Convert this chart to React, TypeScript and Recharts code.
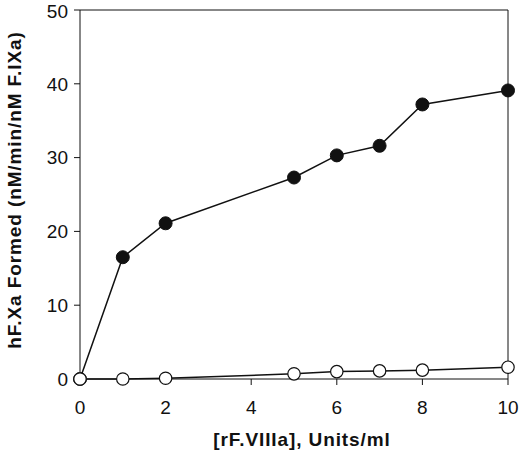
import { LineChart, Line, XAxis, YAxis, ReferenceLine, Label } from 'recharts';

// [rF.VIIIa], Units/ml
const concentration = [0, 1, 2, 5, 6, 7, 8, 10];
// filled circles
const withFIXa = [0, 16.5, 21.1, 27.3, 30.3, 31.6, 37.2, 39.1];
// open circles
const control = [0, 0, 0.1, 0.7, 1.0, 1.1, 1.2, 1.6];

const xTicks = [0, 2, 4, 6, 8, 10];
const yTicks = [0, 10, 20, 30, 40, 50];

const data = concentration.map((x, i) => ({ x, filled: withFIXa[i], open: control[i] }));

const FONT = '"Liberation Sans", Arial, sans-serif';
const INK = '#111';

const FilledDot = ({ cx, cy }: any) => <circle cx={cx} cy={cy} r={6.5} fill={INK} stroke={INK} />;
const OpenDot = ({ cx, cy }: any) => (
  <circle cx={cx} cy={cy} r={6.2} fill="#fff" stroke={INK} strokeWidth={1.2} />
);

const titleStyle = {
  fontFamily: FONT,
  fontWeight: 'bold' as const,
  fontSize: 19,
  letterSpacing: 0.9,
  fill: INK,
};

const XTitle = ({ viewBox }: any) => (
  <text x={viewBox.x + viewBox.width / 2 + 8} y={446} textAnchor="middle" style={titleStyle}>
    [rF.VIIIa], Units/ml
  </text>
);

const YTitle = () => {
  const cx = 14;
  const cy = 190;
  return (
    <text
      x={cx}
      y={cy}
      transform={`rotate(-90 ${cx} ${cy})`}
      textAnchor="middle"
      dominantBaseline="central"
      style={titleStyle}
    >
      hF.Xa Formed (nM/min/nM F.IXa)
    </text>
  );
};

export default function App() {
  return (
    <div style={{ position: 'absolute', left: 0, top: 0, background: '#fff' }}>
      <LineChart width={520} height={452} data={data} margin={{ top: 10, right: 12, left: 0, bottom: 0 }}>
        <XAxis
          type="number"
          dataKey="x"
          domain={[0, 10]}
          ticks={xTicks}
          height={73}
          stroke={INK}
          tickSize={6}
          tickMargin={16}
          tick={{ fill: INK, fontSize: 19, fontFamily: FONT }}
        >
          <Label content={<XTitle />} />
        </XAxis>
        <YAxis
          type="number"
          domain={[0, 50]}
          ticks={yTicks}
          width={80}
          stroke={INK}
          tickSize={6}
          tickMargin={6}
          tick={{ fill: INK, fontSize: 19, fontFamily: FONT }}
        >
          <Label content={<YTitle />} />
        </YAxis>
        <ReferenceLine y={50} stroke={INK} strokeWidth={1} />
        <ReferenceLine x={10} stroke={INK} strokeWidth={1} />
        <Line
          dataKey="filled"
          stroke={INK}
          strokeWidth={1.5}
          dot={<FilledDot />}
          activeDot={false}
          isAnimationActive={false}
        />
        <Line
          dataKey="open"
          stroke={INK}
          strokeWidth={1.5}
          dot={<OpenDot />}
          activeDot={false}
          isAnimationActive={false}
        />
      </LineChart>
    </div>
  );
}
